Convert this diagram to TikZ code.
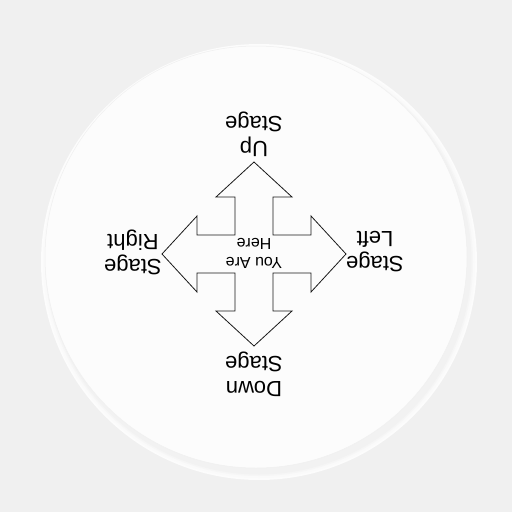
\documentclass[tikz,border=0pt]{standalone}
\usepackage{fontspec}
\setmainfont{Liberation Sans}
\usepackage{tikz}
\usepackage{xcolor}
\definecolor{bgcol}{HTML}{F0F0F0}
\definecolor{facecol}{HTML}{FCFCFC}

\begin{document}
\begin{tikzpicture}[x=1pt, y=-1pt,
    stagelabel/.style={rotate=180, align=center, inner sep=0pt,
      font=\fontsize{22}{25}\selectfont},
    herelabel/.style={rotate=180, align=center, inner sep=0pt,
      font=\fontsize{16}{19}\selectfont}]
  % 1 unit = 1 pixel of the 512x512 picture, y downwards
  \def\crx{254}
  \def\cry{254}
  \def\tipd{92}     % centre to arrow tip
  \def\headd{57}    % centre to base of arrow head
  \def\headw{38}    % half width of arrow head
  \def\shaftw{19}   % half width of shaft
  \fill[bgcol] (0,0) rectangle (512,512);
  \useasboundingbox (0,0) rectangle (512,512);
  % button face with soft shadow
  \foreach \r/\k in {218/1,216/2,214/3.5,212.5/5}
    \fill[black!\k] (259,262) circle[radius=\r];
  \fill[facecol, draw=black!6, line width=0.5pt] (256,257) circle[radius=211];
  % cross of four arrows
  \begin{scope}[shift={(\crx,\cry)}]
    \draw[black!90, line width=0.8pt, line join=miter]
      (0,-\tipd) -- (\headw,-\headd) -- (\shaftw,-\headd) -- (\shaftw,-\shaftw)
      -- (\headd,-\shaftw) -- (\headd,-\headw) -- (\tipd,0) -- (\headd,\headw)
      -- (\headd,\shaftw) -- (\shaftw,\shaftw) -- (\shaftw,\headd) -- (\headw,\headd)
      -- (0,\tipd) -- (-\headw,\headd) -- (-\shaftw,\headd) -- (-\shaftw,\shaftw)
      -- (-\headd,\shaftw) -- (-\headd,\headw) -- (-\tipd,0) -- (-\headd,-\headw)
      -- (-\headd,-\shaftw) -- (-\shaftw,-\shaftw) -- (-\shaftw,-\headd)
      -- (-\headw,-\headd) -- cycle;
  \end{scope}
  % labels, printed upside down
  \node[stagelabel] (upstage) at (254,134) {Up\\Stage};
  \node[stagelabel] (downstage) at (254,374) {Down\\Stage};
  \node[stagelabel] (stageright) at (133,252) {Stage\\Right};
  \node[stagelabel] (stageleft) at (375,252) {Stage\\Left};
  \node[herelabel] (youarehere) at (254,253) {You Are\\Here};
\end{tikzpicture}
\end{document}
